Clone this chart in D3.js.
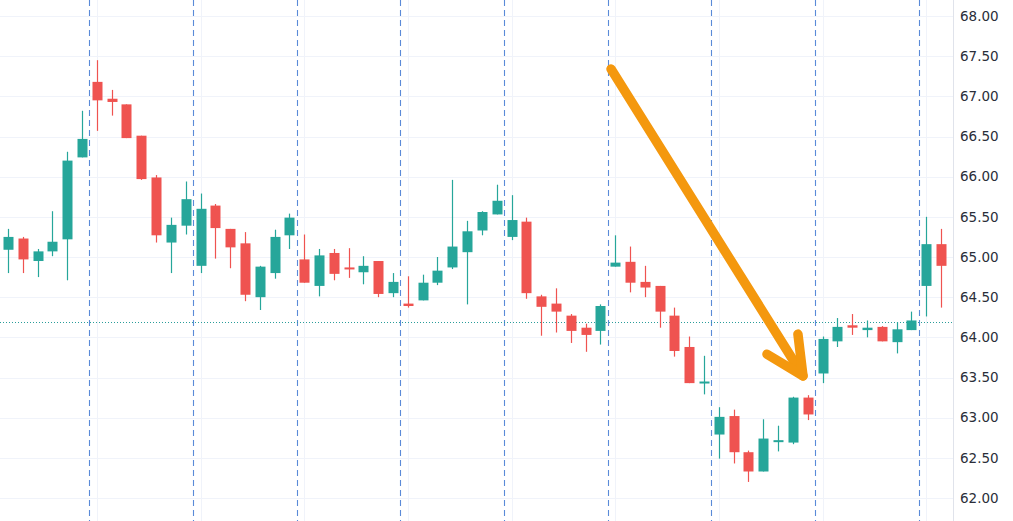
<!DOCTYPE html>
<html>
<head>
<meta charset="utf-8">
<script src="https://cdn.jsdelivr.net/npm/d3@7"></script>
<style>
html,body{margin:0;padding:0;background:#fff;}
svg{display:block;}
</style>
</head>
<body>
<svg id="chart" width="1013" height="521"></svg>
<script>
const opens  = [65.09,65.23,64.95,65.07,65.22,66.24,67.18,66.97,66.90,66.51,65.99,65.18,65.39,64.89,65.64,65.35,65.17,64.50,64.80,65.27,64.97,64.64,65.05,64.87,64.81,64.95,64.55,64.42,64.46,64.68,64.87,65.06,65.33,65.53,65.25,65.44,64.51,64.42,64.27,64.12,64.08,64.88,64.94,64.69,64.64,64.27,63.88,63.43,62.79,63.02,62.57,62.33,62.70,62.69,63.25,63.55,63.95,64.15,64.09,64.13,63.94,64.09,64.64,65.16];
const highs  = [65.35,65.25,65.10,65.57,66.31,66.82,67.45,67.08,66.90,66.51,66.02,65.49,65.94,65.79,65.66,65.35,65.31,64.89,65.34,65.54,65.28,65.10,65.10,65.11,65.01,64.95,64.80,64.76,64.78,65.00,65.96,65.45,65.57,65.90,65.77,65.49,64.53,64.61,64.29,64.17,64.41,65.27,65.13,64.89,64.64,64.37,64.01,63.77,63.13,63.10,62.59,62.98,62.90,63.26,63.28,64.01,64.24,64.29,64.21,64.14,64.19,64.32,65.50,65.35];
const lows   = [64.80,64.80,64.75,65.01,64.71,66.24,66.57,66.76,66.48,65.96,65.18,64.80,65.28,64.80,64.98,64.86,64.45,64.34,64.73,65.10,64.68,64.51,64.71,64.74,64.66,64.50,64.50,64.37,64.46,64.65,64.85,64.41,65.27,65.53,65.21,64.48,64.02,64.06,63.93,63.82,63.91,64.88,64.56,64.50,64.12,63.76,63.43,63.29,62.49,62.43,62.20,62.33,62.58,62.67,62.97,63.43,63.88,64.03,64.00,63.95,63.80,64.09,64.26,64.37];
const closes = [65.25,64.97,65.07,65.19,66.20,66.47,66.95,66.93,66.48,65.97,65.27,65.40,65.72,65.60,65.36,65.12,64.53,64.88,65.25,65.49,64.68,65.02,64.79,64.85,64.89,64.54,64.69,64.39,64.68,64.83,65.13,65.32,65.56,65.70,65.46,64.55,64.38,64.32,64.08,64.03,64.39,64.93,64.68,64.62,64.32,63.83,63.43,63.45,63.01,62.57,62.33,62.74,62.72,63.25,63.04,63.98,64.13,64.12,64.12,63.95,64.10,64.21,65.16,64.89];
const priceTicks = [62,62.5,63,63.5,64,64.5,65,65.5,66,66.5,67,67.5,68];
const sessionStarts = [6,13,20,27,34,41,48,55,62];
const priceLine = 64.19;
// arrow: [bar index, price]
const arrowShaft = [[40.72,67.34],[53.68,63.52]];
const arrowHead  = [[51.25,63.79],[53.68,63.52],[53.34,64.04]];

const W = 1013, H = 521, axisX = 953;
const svg = d3.select("#chart");
const n = opens.length;
const x = d3.scaleLinear().domain([0, n-1]).range([8, 941]);
const y = d3.scaleLinear().domain([62, 68]).range([498, 16]);
const bodyW = 10;
const up = "#26a69a", down = "#ef5350";

// grid
svg.append("g").selectAll("line").data(priceTicks).join("line")
  .attr("x1", 0).attr("x2", axisX)
  .attr("y1", d => Math.round(y(d)) + 0.5).attr("y2", d => Math.round(y(d)) + 0.5)
  .attr("stroke", "#f0f3fa").attr("stroke-width", 1);
svg.append("g").selectAll("line").data(sessionStarts).join("line")
  .attr("x1", d => Math.round(x(d)) + 0.5).attr("x2", d => Math.round(x(d)) + 0.5)
  .attr("y1", 0).attr("y2", H)
  .attr("stroke", "#f0f3fa").attr("stroke-width", 1);

// session separators
svg.append("g").selectAll("line").data(sessionStarts).join("line")
  .attr("x1", d => Math.round(x(d - 0.5)) + 0.5).attr("x2", d => Math.round(x(d - 0.5)) + 0.5)
  .attr("y1", 0).attr("y2", H)
  .attr("stroke", "#5a8ad8").attr("stroke-width", 1.1).attr("stroke-dasharray", "6,4");

// price line
svg.append("line")
  .attr("x1", 0).attr("x2", axisX)
  .attr("y1", Math.round(y(priceLine)) + 0.5).attr("y2", Math.round(y(priceLine)) + 0.5)
  .attr("stroke", "#2a9d9a").attr("stroke-width", 1).attr("stroke-dasharray", "1,2");

// candles
const idx = d3.range(n);
const g = svg.append("g");
g.selectAll("line.wick").data(idx).join("line")
  .attr("class", "wick")
  .attr("x1", i => Math.round(x(i)) + 0.5).attr("x2", i => Math.round(x(i)) + 0.5)
  .attr("y1", i => y(highs[i])).attr("y2", i => y(lows[i]))
  .attr("stroke", i => closes[i] >= opens[i] ? up : down).attr("stroke-width", 1.2);
g.selectAll("rect.body").data(idx).join("rect")
  .attr("class", "body")
  .attr("x", i => Math.round(x(i)) + 0.5 - bodyW / 2)
  .attr("width", bodyW)
  .attr("y", i => y(Math.max(opens[i], closes[i])))
  .attr("height", i => Math.max(2, Math.abs(y(opens[i]) - y(closes[i]))))
  .attr("fill", i => closes[i] >= opens[i] ? up : down);

// arrow
const line = d3.line().x(d => x(d[0])).y(d => y(d[1]));
const ag = svg.append("g").attr("fill", "none").attr("stroke", "#f4980e")
  .attr("stroke-width", 9.5).attr("stroke-linecap", "round").attr("stroke-linejoin", "round");
ag.append("path").attr("d", line(arrowShaft));
ag.append("path").attr("d", line(arrowHead));

// axis
svg.append("rect").attr("x", axisX).attr("y", 0).attr("width", W - axisX).attr("height", H).attr("fill", "#fff");
svg.append("line").attr("x1", axisX + 0.5).attr("x2", axisX + 0.5).attr("y1", 0).attr("y2", H)
  .attr("stroke", "#e0e3eb");
const axis = d3.axisRight(y).tickValues(priceTicks).tickFormat(d3.format(".2f")).tickSize(0).tickPadding(7);
const ax = svg.append("g").attr("transform", `translate(${axisX},0)`).call(axis);
ax.select(".domain").remove();
ax.selectAll("text").attr("font-family", "'DejaVu Sans', sans-serif").attr("font-size", 13.5).attr("fill", "#2a2e39");
</script>
</body>
</html>
